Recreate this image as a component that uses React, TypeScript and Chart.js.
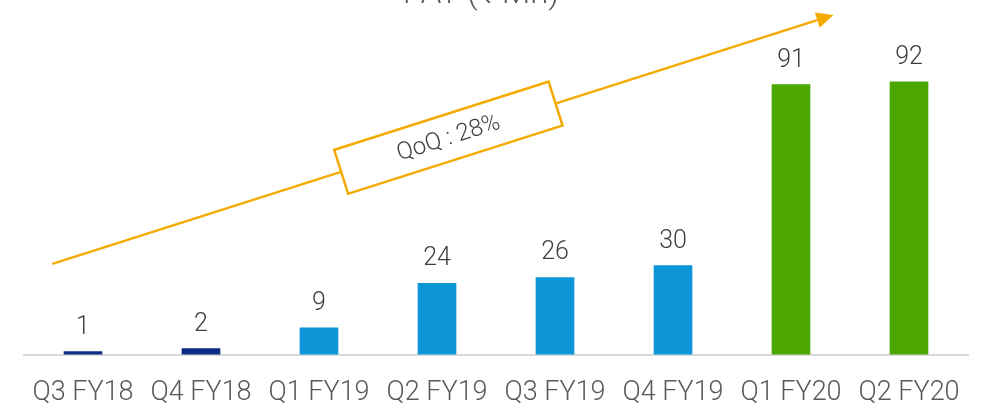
import React, { useEffect, useRef } from "react";
import { Chart, registerables } from "chart.js";

Chart.register(...registerables);

const categories = ["Q3 FY18", "Q4 FY18", "Q1 FY19", "Q2 FY19", "Q3 FY19", "Q4 FY19", "Q1 FY20", "Q2 FY20"];
const patValues = [1, 2, 9, 24, 26, 30, 91, 92];
const barColors = ["#0A2C84", "#0A2C84", "#0C96D8", "#0C96D8", "#0C96D8", "#0C96D8", "#4CA600", "#4CA600"];
const titleText = "PAT (₹ Mn)";
const growthText = "QoQ : 28%";
// arrow annotation in data coordinates (category index, value)
const arrowStart = { x: -0.26, y: 30.6 };
const arrowEnd = { x: 6.36, y: 114.5 };

const annotationPlugin = {
  id: "annotations",
  afterDraw(chart: any) {
    const ctx = chart.ctx as CanvasRenderingContext2D;
    const xs = chart.scales.x;
    const ys = chart.scales.y;
    // value labels
    const meta = chart.getDatasetMeta(0);
    ctx.save();
    ctx.fillStyle = "#404040";
    ctx.font = "300 25px Roboto";
    ctx.textAlign = "center";
    ctx.textBaseline = "alphabetic";
    meta.data.forEach((bar: any, i: number) => {
      ctx.fillText(String(patValues[i]), bar.x, bar.y - 18);
    });
    ctx.restore();

    // title (cut at top)
    ctx.save();
    ctx.fillStyle = "#595959";
    ctx.font = "300 33px Roboto";
    ctx.textAlign = "center";
    ctx.textBaseline = "alphabetic";
    ctx.fillText(titleText, 481, 3);
    ctx.restore();

    // arrow
    const x1 = xs.getPixelForValue(arrowStart.x);
    const y1 = ys.getPixelForValue(arrowStart.y);
    const x2 = xs.getPixelForValue(arrowEnd.x);
    const y2 = ys.getPixelForValue(arrowEnd.y);
    const ang = Math.atan2(y2 - y1, x2 - x1);
    const headLen = 17;
    const headW = 8;
    ctx.save();
    ctx.strokeStyle = "#F4AA00";
    ctx.fillStyle = "#F4AA00";
    ctx.lineWidth = 2.5;
    ctx.beginPath();
    ctx.moveTo(x1, y1);
    ctx.lineTo(x2 - headLen * Math.cos(ang), y2 - headLen * Math.sin(ang));
    ctx.stroke();
    ctx.beginPath();
    ctx.moveTo(x2, y2);
    const bx = x2 - headLen * Math.cos(ang);
    const by = y2 - headLen * Math.sin(ang);
    ctx.lineTo(bx + headW * Math.sin(ang), by - headW * Math.cos(ang));
    ctx.lineTo(bx - headW * Math.sin(ang), by + headW * Math.cos(ang));
    ctx.closePath();
    ctx.fill();

    // box on the arrow
    const cx = x1 + (x2 - x1) * 0.507;
    const cy = y1 + (y2 - y1) * 0.507;
    ctx.translate(cx, cy);
    ctx.rotate(ang);
    const bw = 225;
    const bh = 46;
    ctx.fillStyle = "#ffffff";
    ctx.fillRect(-bw / 2, -bh / 2, bw, bh);
    ctx.lineWidth = 2.5;
    ctx.strokeRect(-bw / 2, -bh / 2, bw, bh);
    ctx.fillStyle = "#404040";
    ctx.font = "300 24px Roboto";
    ctx.textAlign = "center";
    ctx.textBaseline = "middle";
    ctx.fillText(growthText, 0, 1);
    ctx.restore();
  },
};

export default function App() {
  const ref = useRef<HTMLCanvasElement>(null);
  useEffect(() => {
    if (!ref.current) return;
    const chart = new Chart(ref.current, {
      type: "bar",
      data: {
        labels: categories,
        datasets: [
          {
            data: patValues,
            backgroundColor: barColors,
            barThickness: 38,
          },
        ],
      },
      options: {
        animation: false,
        responsive: false,
        maintainAspectRatio: false,
        layout: { padding: { left: 24, right: 19, top: 58, bottom: 2 } },
        plugins: {
          legend: { display: false },
          tooltip: { enabled: false },
          title: { display: false },
        },
        scales: {
          x: {
            grid: { display: false, drawTicks: false },
            border: { display: true, color: "#D9D9D9", width: 2 },
            ticks: {
              color: "#595959",
              font: { family: "Roboto", size: 27, weight: "300" },
              padding: 22,
              maxRotation: 0,
              autoSkip: false,
            },
          },
          y: { display: false, min: 0, max: 100 },
        },
      },
      plugins: [annotationPlugin],
    });
    return () => chart.destroy();
  }, []);
  return (
    <div style={{ position: "absolute", left: 0, top: 0, width: 987, height: 406, overflow: "hidden", background: "#fff" }}>
      <canvas ref={ref} width={987} height={433} style={{ width: 987, height: 433, display: "block" }} />
    </div>
  );
}
